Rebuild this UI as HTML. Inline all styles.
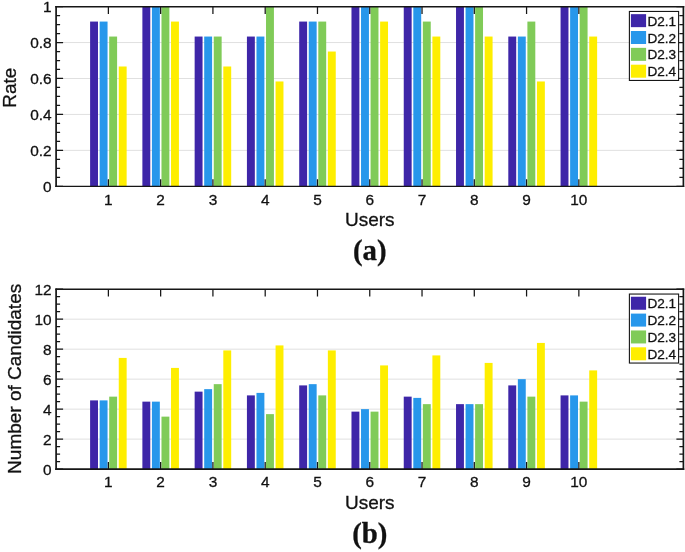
<!DOCTYPE html>
<html><head><meta charset="utf-8"><title>Figure</title>
<style>html,body{margin:0;padding:0;background:#fff}svg{display:block}text{font-family:"Liberation Sans",sans-serif;fill:#111;stroke:#111;stroke-width:0.3px}</style>
</head><body>
<svg width="685" height="552" viewBox="0 0 685 552">
<rect width="685" height="552" fill="#fff"/>
<g>
<line x1="56.1" x2="683.4" y1="150.36" y2="150.36" stroke="#e0e0e0" stroke-width="1"/>
<line x1="56.1" x2="683.4" y1="114.42" y2="114.42" stroke="#e0e0e0" stroke-width="1"/>
<line x1="56.1" x2="683.4" y1="78.48" y2="78.48" stroke="#e0e0e0" stroke-width="1"/>
<line x1="56.1" x2="683.4" y1="42.54" y2="42.54" stroke="#e0e0e0" stroke-width="1"/>
<rect x="90.10" y="21.57" width="7.9" height="164.73" fill="#3E26A8"/>
<rect x="99.65" y="21.57" width="7.9" height="164.73" fill="#2797EB"/>
<rect x="109.20" y="36.55" width="7.9" height="149.75" fill="#80CB58"/>
<rect x="118.75" y="66.50" width="7.9" height="119.80" fill="#FEEE00"/>
<rect x="142.38" y="6.60" width="7.9" height="179.70" fill="#3E26A8"/>
<rect x="151.93" y="6.60" width="7.9" height="179.70" fill="#2797EB"/>
<rect x="161.48" y="6.60" width="7.9" height="179.70" fill="#80CB58"/>
<rect x="171.03" y="21.57" width="7.9" height="164.73" fill="#FEEE00"/>
<rect x="194.65" y="36.55" width="7.9" height="149.75" fill="#3E26A8"/>
<rect x="204.20" y="36.55" width="7.9" height="149.75" fill="#2797EB"/>
<rect x="213.75" y="36.55" width="7.9" height="149.75" fill="#80CB58"/>
<rect x="223.30" y="66.50" width="7.9" height="119.80" fill="#FEEE00"/>
<rect x="246.93" y="36.55" width="7.9" height="149.75" fill="#3E26A8"/>
<rect x="256.48" y="36.55" width="7.9" height="149.75" fill="#2797EB"/>
<rect x="266.02" y="6.60" width="7.9" height="179.70" fill="#80CB58"/>
<rect x="275.57" y="81.47" width="7.9" height="104.83" fill="#FEEE00"/>
<rect x="299.20" y="21.57" width="7.9" height="164.73" fill="#3E26A8"/>
<rect x="308.75" y="21.57" width="7.9" height="164.73" fill="#2797EB"/>
<rect x="318.30" y="21.57" width="7.9" height="164.73" fill="#80CB58"/>
<rect x="327.85" y="51.53" width="7.9" height="134.78" fill="#FEEE00"/>
<rect x="351.48" y="6.60" width="7.9" height="179.70" fill="#3E26A8"/>
<rect x="361.03" y="6.60" width="7.9" height="179.70" fill="#2797EB"/>
<rect x="370.57" y="6.60" width="7.9" height="179.70" fill="#80CB58"/>
<rect x="380.12" y="21.57" width="7.9" height="164.73" fill="#FEEE00"/>
<rect x="403.75" y="6.60" width="7.9" height="179.70" fill="#3E26A8"/>
<rect x="413.30" y="6.60" width="7.9" height="179.70" fill="#2797EB"/>
<rect x="422.85" y="21.57" width="7.9" height="164.73" fill="#80CB58"/>
<rect x="432.40" y="36.55" width="7.9" height="149.75" fill="#FEEE00"/>
<rect x="456.03" y="6.60" width="7.9" height="179.70" fill="#3E26A8"/>
<rect x="465.58" y="6.60" width="7.9" height="179.70" fill="#2797EB"/>
<rect x="475.12" y="6.60" width="7.9" height="179.70" fill="#80CB58"/>
<rect x="484.68" y="36.55" width="7.9" height="149.75" fill="#FEEE00"/>
<rect x="508.30" y="36.55" width="7.9" height="149.75" fill="#3E26A8"/>
<rect x="517.85" y="36.55" width="7.9" height="149.75" fill="#2797EB"/>
<rect x="527.40" y="21.57" width="7.9" height="164.73" fill="#80CB58"/>
<rect x="536.95" y="81.47" width="7.9" height="104.83" fill="#FEEE00"/>
<rect x="560.57" y="6.60" width="7.9" height="179.70" fill="#3E26A8"/>
<rect x="570.12" y="6.60" width="7.9" height="179.70" fill="#2797EB"/>
<rect x="579.67" y="6.60" width="7.9" height="179.70" fill="#80CB58"/>
<rect x="589.23" y="36.55" width="7.9" height="149.75" fill="#FEEE00"/>
<path d="M56.1 186.30h7.0M683.4 186.30h-7.0M56.1 177.31h4.0M683.4 177.31h-4.0M56.1 168.33h4.0M683.4 168.33h-4.0M56.1 159.34h4.0M683.4 159.34h-4.0M56.1 150.36h7.0M683.4 150.36h-7.0M56.1 141.38h4.0M683.4 141.38h-4.0M56.1 132.39h4.0M683.4 132.39h-4.0M56.1 123.41h4.0M683.4 123.41h-4.0M56.1 114.42h7.0M683.4 114.42h-7.0M56.1 105.44h4.0M683.4 105.44h-4.0M56.1 96.45h4.0M683.4 96.45h-4.0M56.1 87.46h4.0M683.4 87.46h-4.0M56.1 78.48h7.0M683.4 78.48h-7.0M56.1 69.49h4.0M683.4 69.49h-4.0M56.1 60.51h4.0M683.4 60.51h-4.0M56.1 51.53h4.0M683.4 51.53h-4.0M56.1 42.54h7.0M683.4 42.54h-7.0M56.1 33.55h4.0M683.4 33.55h-4.0M56.1 24.57h4.0M683.4 24.57h-4.0M56.1 15.58h4.0M683.4 15.58h-4.0M56.1 6.60h7.0M683.4 6.60h-7.0M108.38 186.3v-7.0M108.38 6.6v7.4M160.65 186.3v-7.0M160.65 6.6v7.4M212.92 186.3v-7.0M212.92 6.6v7.4M265.20 186.3v-7.0M265.20 6.6v7.4M317.48 186.3v-7.0M317.48 6.6v7.4M369.75 186.3v-7.0M369.75 6.6v7.4M422.03 186.3v-7.0M422.03 6.6v7.4M474.30 186.3v-7.0M474.30 6.6v7.4M526.57 186.3v-7.0M526.57 6.6v7.4M578.85 186.3v-7.0M578.85 6.6v7.4" stroke="#161616" stroke-width="1.25" fill="none"/>
<path d="M56.1 6.0V186.925M683.4 6.0V186.925" fill="none" stroke="#161616" stroke-width="1.7"/>
<line x1="55.25" x2="684.25" y1="6.699999999999999" y2="6.699999999999999" stroke="#161616" stroke-width="1.4"/>
<line x1="55.25" x2="684.25" y1="186.3" y2="186.3" stroke="#161616" stroke-width="1.25"/>
<text x="51.6" y="191.80" font-size="15.4" text-anchor="end">0</text>
<text x="51.6" y="155.86" font-size="15.4" text-anchor="end">0.2</text>
<text x="51.6" y="119.92" font-size="15.4" text-anchor="end">0.4</text>
<text x="51.6" y="83.98" font-size="15.4" text-anchor="end">0.6</text>
<text x="51.6" y="48.04" font-size="15.4" text-anchor="end">0.8</text>
<text x="51.6" y="12.10" font-size="15.4" text-anchor="end">1</text>
<text x="108.38" y="204.60" font-size="15.4" text-anchor="middle">1</text>
<text x="160.65" y="204.60" font-size="15.4" text-anchor="middle">2</text>
<text x="212.92" y="204.60" font-size="15.4" text-anchor="middle">3</text>
<text x="265.20" y="204.60" font-size="15.4" text-anchor="middle">4</text>
<text x="317.48" y="204.60" font-size="15.4" text-anchor="middle">5</text>
<text x="369.75" y="204.60" font-size="15.4" text-anchor="middle">6</text>
<text x="422.03" y="204.60" font-size="15.4" text-anchor="middle">7</text>
<text x="474.30" y="204.60" font-size="15.4" text-anchor="middle">8</text>
<text x="526.57" y="204.60" font-size="15.4" text-anchor="middle">9</text>
<text x="578.85" y="204.60" font-size="15.4" text-anchor="middle">10</text>
<text x="369.75" y="226.30" font-size="19.0" text-anchor="middle">Users</text>
<text transform="translate(16.4 87.75) rotate(-90)" font-size="19.0" text-anchor="middle">Rate</text>
<text x="369.75" y="259.7" font-size="28.8" text-anchor="middle" style="font-family:'Liberation Serif',serif;font-weight:bold">(a)</text>
<rect x="629.4" y="11.45" width="49.2" height="69" fill="#fff" stroke="#161616" stroke-width="1.1"/>
<rect x="630.9" y="14.15" width="15.2" height="13" fill="#3E26A8"/>
<text x="647.4" y="25.75" font-size="13.6">D2.1</text>
<rect x="630.9" y="31.00" width="15.2" height="13" fill="#2797EB"/>
<text x="647.4" y="42.60" font-size="13.6">D2.2</text>
<rect x="630.9" y="47.85" width="15.2" height="13" fill="#80CB58"/>
<text x="647.4" y="59.45" font-size="13.6">D2.3</text>
<rect x="630.9" y="64.70" width="15.2" height="13" fill="#FEEE00"/>
<text x="647.4" y="76.30" font-size="13.6">D2.4</text>
</g>
<g>
<line x1="56.1" x2="683.4" y1="439.12" y2="439.12" stroke="#e0e0e0" stroke-width="1"/>
<line x1="56.1" x2="683.4" y1="409.13" y2="409.13" stroke="#e0e0e0" stroke-width="1"/>
<line x1="56.1" x2="683.4" y1="379.15" y2="379.15" stroke="#e0e0e0" stroke-width="1"/>
<line x1="56.1" x2="683.4" y1="349.17" y2="349.17" stroke="#e0e0e0" stroke-width="1"/>
<line x1="56.1" x2="683.4" y1="319.18" y2="319.18" stroke="#e0e0e0" stroke-width="1"/>
<rect x="90.10" y="400.39" width="7.9" height="68.71" fill="#3E26A8"/>
<rect x="99.65" y="400.39" width="7.9" height="68.71" fill="#2797EB"/>
<rect x="109.20" y="396.64" width="7.9" height="72.46" fill="#80CB58"/>
<rect x="118.75" y="357.91" width="7.9" height="111.19" fill="#FEEE00"/>
<rect x="142.38" y="401.64" width="7.9" height="67.46" fill="#3E26A8"/>
<rect x="151.93" y="401.64" width="7.9" height="67.46" fill="#2797EB"/>
<rect x="161.48" y="416.63" width="7.9" height="52.47" fill="#80CB58"/>
<rect x="171.03" y="367.91" width="7.9" height="101.19" fill="#FEEE00"/>
<rect x="194.65" y="391.64" width="7.9" height="77.46" fill="#3E26A8"/>
<rect x="204.20" y="389.14" width="7.9" height="79.96" fill="#2797EB"/>
<rect x="213.75" y="384.15" width="7.9" height="84.95" fill="#80CB58"/>
<rect x="223.30" y="350.42" width="7.9" height="118.68" fill="#FEEE00"/>
<rect x="246.93" y="395.39" width="7.9" height="73.71" fill="#3E26A8"/>
<rect x="256.48" y="392.89" width="7.9" height="76.21" fill="#2797EB"/>
<rect x="266.02" y="414.13" width="7.9" height="54.97" fill="#80CB58"/>
<rect x="275.57" y="345.42" width="7.9" height="123.68" fill="#FEEE00"/>
<rect x="299.20" y="385.40" width="7.9" height="83.70" fill="#3E26A8"/>
<rect x="308.75" y="384.15" width="7.9" height="84.95" fill="#2797EB"/>
<rect x="318.30" y="395.39" width="7.9" height="73.71" fill="#80CB58"/>
<rect x="327.85" y="350.42" width="7.9" height="118.68" fill="#FEEE00"/>
<rect x="351.48" y="411.63" width="7.9" height="57.47" fill="#3E26A8"/>
<rect x="361.03" y="409.13" width="7.9" height="59.97" fill="#2797EB"/>
<rect x="370.57" y="411.63" width="7.9" height="57.47" fill="#80CB58"/>
<rect x="380.12" y="365.41" width="7.9" height="103.69" fill="#FEEE00"/>
<rect x="403.75" y="396.64" width="7.9" height="72.46" fill="#3E26A8"/>
<rect x="413.30" y="397.89" width="7.9" height="71.21" fill="#2797EB"/>
<rect x="422.85" y="404.14" width="7.9" height="64.96" fill="#80CB58"/>
<rect x="432.40" y="355.41" width="7.9" height="113.69" fill="#FEEE00"/>
<rect x="456.03" y="404.14" width="7.9" height="64.96" fill="#3E26A8"/>
<rect x="465.58" y="404.14" width="7.9" height="64.96" fill="#2797EB"/>
<rect x="475.12" y="404.14" width="7.9" height="64.96" fill="#80CB58"/>
<rect x="484.68" y="362.91" width="7.9" height="106.19" fill="#FEEE00"/>
<rect x="508.30" y="385.40" width="7.9" height="83.70" fill="#3E26A8"/>
<rect x="517.85" y="379.15" width="7.9" height="89.95" fill="#2797EB"/>
<rect x="527.40" y="396.64" width="7.9" height="72.46" fill="#80CB58"/>
<rect x="536.95" y="342.92" width="7.9" height="126.18" fill="#FEEE00"/>
<rect x="560.57" y="395.39" width="7.9" height="73.71" fill="#3E26A8"/>
<rect x="570.12" y="395.39" width="7.9" height="73.71" fill="#2797EB"/>
<rect x="579.67" y="401.64" width="7.9" height="67.46" fill="#80CB58"/>
<rect x="589.23" y="370.40" width="7.9" height="98.70" fill="#FEEE00"/>
<path d="M56.1 469.10h7.0M683.4 469.10h-7.0M56.1 461.60h4.0M683.4 461.60h-4.0M56.1 454.11h4.0M683.4 454.11h-4.0M56.1 446.61h4.0M683.4 446.61h-4.0M56.1 439.12h7.0M683.4 439.12h-7.0M56.1 431.62h4.0M683.4 431.62h-4.0M56.1 424.12h4.0M683.4 424.12h-4.0M56.1 416.63h4.0M683.4 416.63h-4.0M56.1 409.13h7.0M683.4 409.13h-7.0M56.1 401.64h4.0M683.4 401.64h-4.0M56.1 394.14h4.0M683.4 394.14h-4.0M56.1 386.65h4.0M683.4 386.65h-4.0M56.1 379.15h7.0M683.4 379.15h-7.0M56.1 371.65h4.0M683.4 371.65h-4.0M56.1 364.16h4.0M683.4 364.16h-4.0M56.1 356.66h4.0M683.4 356.66h-4.0M56.1 349.17h7.0M683.4 349.17h-7.0M56.1 341.67h4.0M683.4 341.67h-4.0M56.1 334.18h4.0M683.4 334.18h-4.0M56.1 326.68h4.0M683.4 326.68h-4.0M56.1 319.18h7.0M683.4 319.18h-7.0M56.1 311.69h4.0M683.4 311.69h-4.0M56.1 304.19h4.0M683.4 304.19h-4.0M56.1 296.70h4.0M683.4 296.70h-4.0M56.1 289.20h7.0M683.4 289.20h-7.0M108.38 469.1v-7.0M108.38 289.2v7.4M160.65 469.1v-7.0M160.65 289.2v7.4M212.92 469.1v-7.0M212.92 289.2v7.4M265.20 469.1v-7.0M265.20 289.2v7.4M317.48 469.1v-7.0M317.48 289.2v7.4M369.75 469.1v-7.0M369.75 289.2v7.4M422.03 469.1v-7.0M422.03 289.2v7.4M474.30 469.1v-7.0M474.30 289.2v7.4M526.57 469.1v-7.0M526.57 289.2v7.4M578.85 469.1v-7.0M578.85 289.2v7.4" stroke="#161616" stroke-width="1.25" fill="none"/>
<path d="M56.1 288.59999999999997V469.875M683.4 288.59999999999997V469.875" fill="none" stroke="#161616" stroke-width="1.7"/>
<line x1="55.25" x2="684.25" y1="289.3" y2="289.3" stroke="#161616" stroke-width="1.4"/>
<line x1="55.25" x2="684.25" y1="469.1" y2="469.1" stroke="#161616" stroke-width="1.55"/>
<text x="51.6" y="474.60" font-size="15.4" text-anchor="end">0</text>
<text x="51.6" y="444.62" font-size="15.4" text-anchor="end">2</text>
<text x="51.6" y="414.63" font-size="15.4" text-anchor="end">4</text>
<text x="51.6" y="384.65" font-size="15.4" text-anchor="end">6</text>
<text x="51.6" y="354.67" font-size="15.4" text-anchor="end">8</text>
<text x="51.6" y="324.68" font-size="15.4" text-anchor="end">10</text>
<text x="51.6" y="294.70" font-size="15.4" text-anchor="end">12</text>
<text x="108.38" y="487.40" font-size="15.4" text-anchor="middle">1</text>
<text x="160.65" y="487.40" font-size="15.4" text-anchor="middle">2</text>
<text x="212.92" y="487.40" font-size="15.4" text-anchor="middle">3</text>
<text x="265.20" y="487.40" font-size="15.4" text-anchor="middle">4</text>
<text x="317.48" y="487.40" font-size="15.4" text-anchor="middle">5</text>
<text x="369.75" y="487.40" font-size="15.4" text-anchor="middle">6</text>
<text x="422.03" y="487.40" font-size="15.4" text-anchor="middle">7</text>
<text x="474.30" y="487.40" font-size="15.4" text-anchor="middle">8</text>
<text x="526.57" y="487.40" font-size="15.4" text-anchor="middle">9</text>
<text x="578.85" y="487.40" font-size="15.4" text-anchor="middle">10</text>
<text x="369.75" y="509.10" font-size="19.0" text-anchor="middle">Users</text>
<text transform="translate(20.7 378.85) rotate(-90)" font-size="19.0" text-anchor="middle">Number of Candidates</text>
<text x="369.75" y="542.8" font-size="28.8" text-anchor="middle" style="font-family:'Liberation Serif',serif;font-weight:bold">(b)</text>
<rect x="629.4" y="294.05" width="49.2" height="69" fill="#fff" stroke="#161616" stroke-width="1.1"/>
<rect x="630.9" y="296.75" width="15.2" height="13" fill="#3E26A8"/>
<text x="647.4" y="308.35" font-size="13.6">D2.1</text>
<rect x="630.9" y="313.60" width="15.2" height="13" fill="#2797EB"/>
<text x="647.4" y="325.20" font-size="13.6">D2.2</text>
<rect x="630.9" y="330.45" width="15.2" height="13" fill="#80CB58"/>
<text x="647.4" y="342.05" font-size="13.6">D2.3</text>
<rect x="630.9" y="347.30" width="15.2" height="13" fill="#FEEE00"/>
<text x="647.4" y="358.90" font-size="13.6">D2.4</text>
</g>
</svg>
</body></html>
